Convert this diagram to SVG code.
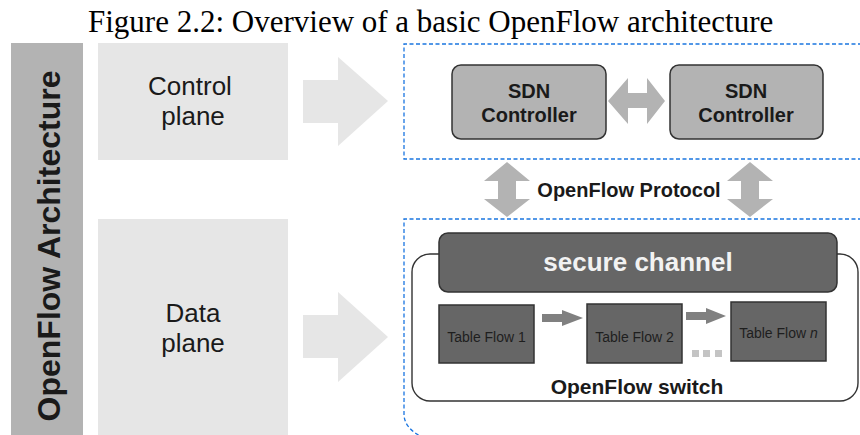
<svg xmlns="http://www.w3.org/2000/svg" width="860" height="435" viewBox="0 0 860 435">
  <style>
    .title { font-family: "Liberation Serif", "Times New Roman", serif; font-size: 31px; fill: #000; }
    .sans { font-family: "Liberation Sans", Arial, sans-serif; }
    .plane { font-size: 26px; fill: #1a1a1a; text-anchor: middle; }
    .bold { font-weight: bold; }
    .ctrl { fill: #b3b3b3; stroke: #333; stroke-width: 1.5; }
    .dark { fill: #666666; stroke: #333; stroke-width: 1.5; }
    .bigarrow { fill: #e6e6e6; }
    .grayarrow { fill: #b3b3b3; }
    .flowarrow { fill: #808080; }
    .dash { fill: none; stroke: #1a75e0; stroke-width: 1.3; stroke-dasharray: 4 2.5; }
    .tbl { font-size: 14px; fill: #1e1e1e; text-anchor: middle; }
  </style>

  <!-- caption -->
  <text class="title" x="88" y="32">Figure 2.2: Overview of a basic OpenFlow architecture</text>

  <!-- side label -->
  <g id="architecture-label">
    <rect x="11" y="43" width="72" height="392" fill="#b3b3b3"/>
    <text class="sans bold" font-size="32" fill="#1a1a1a" text-anchor="middle" transform="translate(60 246) rotate(-90)">OpenFlow Architecture</text>
  </g>

  <g id="control-plane">
    <rect x="98" y="43" width="190" height="117" fill="#e6e6e6"/>
    <text class="sans plane" x="190" y="95">Control</text>
    <text class="sans plane" x="193" y="125">plane</text>
  </g>

  <g id="data-plane">
    <rect x="98" y="219" width="190" height="216" fill="#e6e6e6"/>
    <text class="sans plane" x="193" y="322">Data</text>
    <text class="sans plane" x="193" y="352">plane</text>
  </g>

  <!-- dashed region borders -->
  <g id="control-region">
    <path class="dash" d="M 862 44 H 404 V 159 H 862"/>
  </g>
  <g id="data-region">
    <path class="dash" d="M 862 219 H 404 V 414 Q 404 428 422 437"/>
  </g>

  <g id="sdn-controller-1">
    <rect class="ctrl" x="452" y="65" width="154" height="74" rx="9"/>
    <text class="sans bold" font-size="20" fill="#1a1a1a" text-anchor="middle" x="529" y="98">SDN</text>
    <text class="sans bold" font-size="20" fill="#1a1a1a" text-anchor="middle" x="529" y="122">Controller</text>
  </g>

  <g id="sdn-controller-2">
    <rect class="ctrl" x="670" y="65" width="153" height="74" rx="9"/>
    <text class="sans bold" font-size="20" fill="#1a1a1a" text-anchor="middle" x="746" y="98">SDN</text>
    <text class="sans bold" font-size="20" fill="#1a1a1a" text-anchor="middle" x="746" y="122">Controller</text>
  </g>

  <g id="openflow-switch">
    <rect x="412" y="254" width="446" height="147" rx="18" fill="none" stroke="#333" stroke-width="1.4"/>
    <text class="sans bold" font-size="21" fill="#1a1a1a" text-anchor="middle" x="637" y="394">OpenFlow switch</text>
  </g>

  <g id="secure-channel">
    <rect class="dark" x="439" y="233" width="398" height="59" rx="9"/>
    <text class="sans bold" font-size="26" fill="#f2f2f2" text-anchor="middle" x="638" y="271">secure channel</text>
  </g>

  <g id="table-flow-1">
    <rect class="dark" x="439" y="305" width="95" height="58"/>
    <text class="sans tbl" x="486.5" y="342">Table Flow 1</text>
  </g>

  <g id="table-flow-2">
    <rect class="dark" x="587" y="304" width="95" height="59"/>
    <text class="sans tbl" x="634.5" y="342">Table Flow 2</text>
  </g>

  <g id="table-flow-n">
    <rect class="dark" x="731" y="302" width="95" height="59"/>
    <text class="sans tbl" x="778.5" y="338">Table Flow <tspan font-style="italic">n</tspan></text>
  </g>

  <g id="ellipsis">
    <rect x="692" y="350" width="7" height="7" fill="#c4c4c4"/>
    <rect x="703" y="350" width="7" height="7" fill="#c4c4c4"/>
    <rect x="715" y="350" width="7" height="7" fill="#c4c4c4"/>
  </g>

  <!-- connectors -->
  <g id="connectors">
    <!-- plane to region arrows -->
    <polygon class="bigarrow" points="303,80 338,80 338,57 388,101 338,146 338,123 303,123"/>
    <polygon class="bigarrow" points="303,315 338,315 338,292 388,337 338,382 338,358 303,358"/>

    <!-- controller to controller -->
    <polygon class="grayarrow" points="608,101 628,78 628,93 647,93 647,78 665,101 647,124 647,108 628,108 628,124"/>

    <!-- OpenFlow protocol links -->
    <polygon class="grayarrow" points="507,162 530,181 516,181 516,199 530,199 507,217 484,199 498,199 498,181 484,181"/>
    <polygon class="grayarrow" points="750,162 773,181 759,181 759,199 773,199 750,217 727,199 741,199 741,181 727,181"/>
    <text class="sans bold" font-size="20" fill="#1a1a1a" text-anchor="middle" x="629" y="197">OpenFlow Protocol</text>

    <!-- pipeline arrows -->
    <polygon class="flowarrow" points="542,314 562,314 562,310 583,318 562,326 562,322 542,322"/>
    <polygon class="flowarrow" points="686,312 706,312 706,308 726,316 706,324 706,320 686,320"/>
  </g>
</svg>
